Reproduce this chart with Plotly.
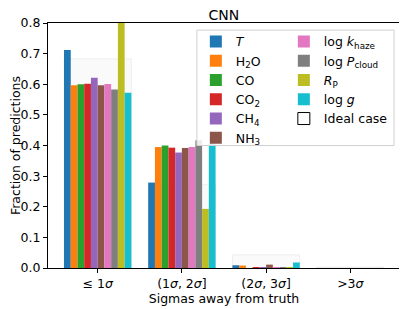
import plotly.graph_objects as go

categories = ["≤ 1<i>σ</i>", "(1<i>σ</i>, 2<i>σ</i>]", "(2<i>σ</i>, 3<i>σ</i>]", ">3<i>σ</i>"]
cat_index = [0, 1, 2, 3]

series_names = ["<i>T</i>", "H<sub>2</sub>O", "CO", "CO<sub>2</sub>", "CH<sub>4</sub>", "NH<sub>3</sub>",
                "log <i>k</i><sub>haze</sub>", "log <i>P</i><sub>cloud</sub>", "<i>R</i><sub>P</sub>", "log <i>g</i>"]
colors = ["#1f77b4", "#ff7f0e", "#2ca02c", "#d62728", "#9467bd", "#8c564b",
          "#e377c2", "#7f7f7f", "#bcbd22", "#17becf"]

T = [0.712, 0.279, 0.009, 0.0]
H2O = [0.597, 0.395, 0.008, 0.0]
CO = [0.600, 0.400, 0.000, 0.0]
CO2 = [0.602, 0.393, 0.002, 0.0]
CH4 = [0.621, 0.377, 0.001, 0.0]
NH3 = [0.597, 0.392, 0.011, 0.0]
log_khaze = [0.601, 0.395, 0.002, 0.0]
log_Pcloud = [0.583, 0.417, 0.001, 0.0]
Rp = [0.830, 0.193, 0.002, 0.0]
log_g = [0.572, 0.408, 0.018, 0.0]
ideal_case = [0.683, 0.272, 0.043, 0.003]

series_values = [T, H2O, CO, CO2, CH4, NH3, log_khaze, log_Pcloud, Rp, log_g]

group_width = 0.8
n = len(series_values)
bw = group_width / n

fig = go.Figure()

# Ideal case (faint boxes)
fig.add_trace(go.Bar(
    x=cat_index, y=ideal_case, width=group_width, offset=-group_width / 2,
    marker=dict(color="rgba(190,190,190,0.07)", line=dict(color="rgba(0,0,0,0.06)", width=1)),
    showlegend=False, name="Ideal case",
))

for i, (name, vals, c) in enumerate(zip(series_names, series_values, colors)):
    fig.add_trace(go.Bar(
        x=cat_index, y=vals, width=bw, offset=-group_width / 2 + i * bw,
        marker=dict(color=c, line=dict(width=0)),
        name=name, legend="legend" if i < 6 else "legend2",
    ))

font_family = "DejaVu Sans"
leg_common = dict(
    orientation="v", yanchor="top", xanchor="left",
    bgcolor="rgba(0,0,0,0)", borderwidth=0,
    font=dict(size=12.5, family=font_family), tracegroupgap=0, traceorder="normal",
)
# The page body adds an 8px offset, so the figure is sized 8px smaller to fill the window.
fig.update_layout(
    width=399, height=301,
    margin=dict(l=40, r=7, t=15, b=41, autoexpand=False),
    paper_bgcolor="white", plot_bgcolor="white",
    barmode="overlay",
    font=dict(family=font_family, size=12.5, color="black"),
    title=dict(text="CNN", x=0.541, xanchor="center", y=0.978, yanchor="middle",
               font=dict(size=14, family=font_family)),
    legend=dict(x=0.42, y=0.984, **leg_common),
    legend2=dict(x=0.67, y=0.984, **leg_common),
    shapes=[
        dict(type="rect", xref="paper", yref="paper", x0=0.423, x1=0.983, y0=0.50, y1=0.971,
             line=dict(color="#d0d0d0", width=1), fillcolor="rgba(255,255,255,0.85)", layer="above"),
        # legend entry for the ideal case (drawn outside the axis range, so only its legend item shows)
        dict(type="rect", xref="x", yref="y", x0=9, x1=9.5, y0=0, y1=0.1,
             line=dict(color="black", width=1, dash="dot"), fillcolor="rgba(255,255,255,0)",
             showlegend=True, name="Ideal case", legend="legend2", legendrank=2000),
    ],
    xaxis=dict(
        range=[-0.59, 3.59], tickmode="array", tickvals=cat_index, ticktext=categories,
        showline=True, linecolor="black", linewidth=1, mirror=True,
        ticks="outside", ticklen=4, tickcolor="black", showgrid=False, zeroline=False,
        title=dict(text="Sigmas away from truth", standoff=0, font=dict(size=12.5)),
        tickfont=dict(size=12.5),
    ),
    yaxis=dict(
        range=[0, 0.8], tickmode="array", tickvals=[0, 0.1, 0.2, 0.3, 0.4, 0.5, 0.6, 0.7, 0.8],
        tickformat=".1f",
        showline=True, linecolor="black", linewidth=1, mirror=True,
        ticks="outside", ticklen=4, tickcolor="black", showgrid=False, zeroline=False,
        title=dict(text="Fraction of predictions", standoff=5, font=dict(size=12.5)),
        tickfont=dict(size=12.5),
    ),
)

fig.write_html("out.html")
